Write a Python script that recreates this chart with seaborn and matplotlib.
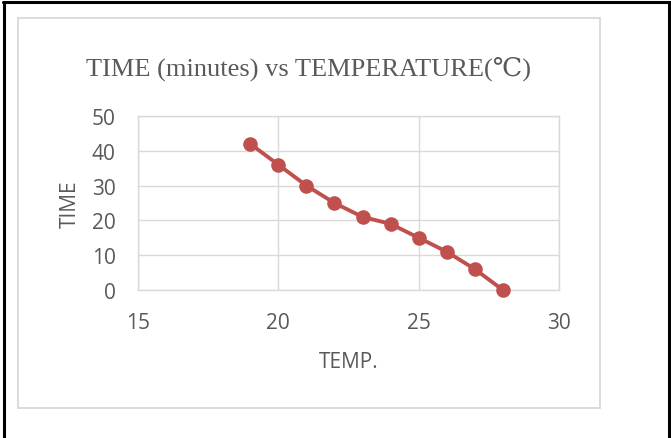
import matplotlib
matplotlib.use("Agg")
import matplotlib.pyplot as plt
from matplotlib.lines import Line2D
from matplotlib.patches import Rectangle
import seaborn as sns
import pandas as pd

# Measured cooling data
temp = [19, 20, 21, 22, 23, 24, 25, 26, 27, 28]
time_min = [42, 36, 30, 25, 21, 19, 15, 11, 6, 0]
x_ticks = [15, 20, 25, 30]
y_ticks = [0, 10, 20, 30, 40, 50]

sns.set_theme(style="white")
plt.rcParams["font.family"] = ["Open Sans", "DejaVu Sans"]

W, H = 671, 439
fig = plt.figure(figsize=(W / 100, H / 100), dpi=100)

def fx(px):
    return px / W

def fy(py):
    return 1 - py / H

# outer frame (left, top, right)
for xs, ys in [([4, 4], [3, 439]), ([3, 670], [3, 3]), ([669, 669], [3, 439])]:
    fig.add_artist(Line2D([fx(v) for v in xs], [fy(v) for v in ys],
                          color="black", lw=2.2, transform=fig.transFigure))

# chart area box
fig.add_artist(Rectangle((fx(18), fy(409)), fx(600) - fx(18), fy(19) - fy(409),
                         fill=False, edgecolor="#D9D9D9", lw=1.3,
                         transform=fig.transFigure))

ax = fig.add_axes([fx(138), fy(291), fx(559) - fx(138), fy(117) - fy(291)])
df = pd.DataFrame({"TEMP.": temp, "TIME": time_min})
sns.lineplot(data=df, x="TEMP.", y="TIME", ax=ax, color="#C0504D",
             lw=2.8, marker="o", markersize=10.5, markeredgewidth=0,
             clip_on=False, zorder=3)

ax.set_xlim(15, 30)
ax.set_ylim(0, 50)
ax.set_xticks(x_ticks)
ax.set_yticks(y_ticks)
ax.grid(True, color="#D9D9D9", lw=1)
for s in ax.spines.values():
    s.set_color("#D9D9D9")
    s.set_linewidth(1)
ax.tick_params(axis="both", length=0, labelsize=15, colors="#595959")
ax.tick_params(axis="x", pad=16)
ax.tick_params(axis="y", pad=16)
ax.set_xlabel("TEMP.", fontsize=15, color="#595959", labelpad=13)
ax.set_ylabel("TIME", fontsize=15, color="#595959", labelpad=8)

fig.text(fx(309), fy(76), "TIME (minutes) vs TEMPERATURE(℃)",
         ha="center", va="baseline", fontsize=19,
         family=["Liberation Serif", "DejaVu Serif"], color="#595959")

fig.savefig("out.png", dpi=100)
